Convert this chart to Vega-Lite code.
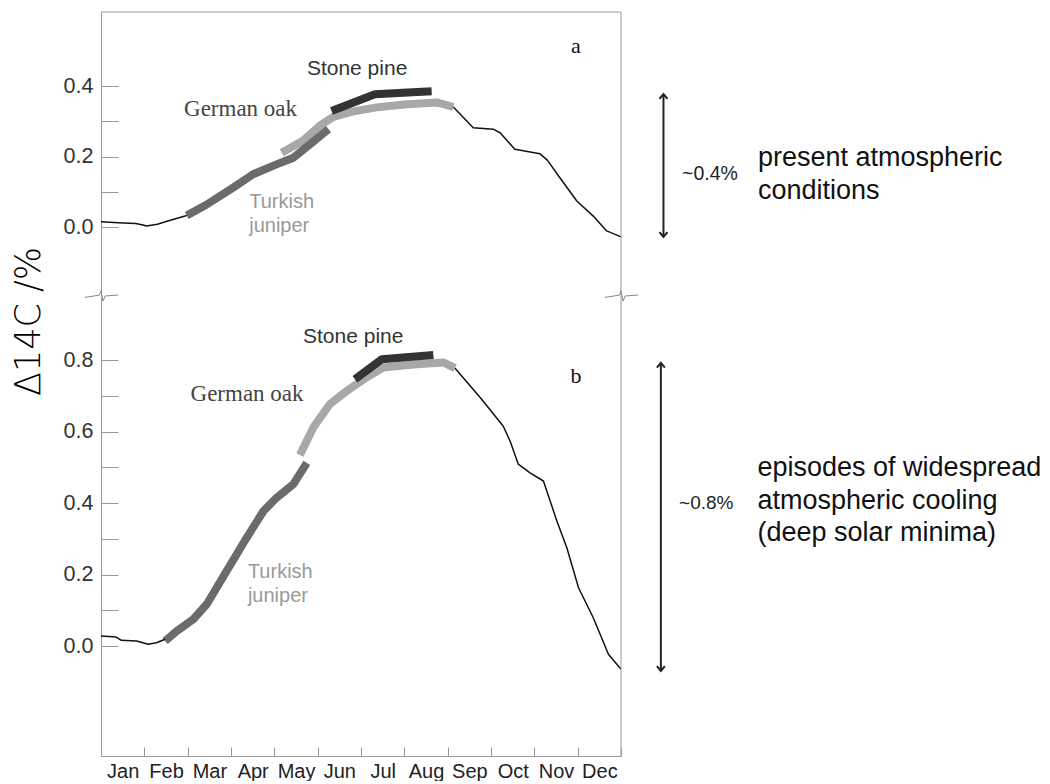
{
  "$schema": "https://vega.github.io/schema/vega-lite/v6.json",
  "padding": {"left": 10, "top": 11, "right": 0, "bottom": 0},
  "background": "white",
  "spacing": 0,
  "bounds": "flush",
  "config": {
    "view": {"stroke": null},
    "axis": {"grid": false, "domainColor": "#999", "tickColor": "#999", "labelFont": "Liberation Sans", "labelColor": "#333"},
    "text": {"font": "Liberation Sans"}
  },
  "datasets": {
    "a": [
      {"series": "oak", "month": 4.17, "value": 0.211},
      {"series": "oak", "month": 4.67, "value": 0.246},
      {"series": "oak", "month": 5.05, "value": 0.288},
      {"series": "oak", "month": 5.36, "value": 0.313},
      {"series": "oak", "month": 5.8, "value": 0.328},
      {"series": "oak", "month": 6.36, "value": 0.34},
      {"series": "oak", "month": 7.0, "value": 0.348},
      {"series": "oak", "month": 7.75, "value": 0.354},
      {"series": "oak", "month": 8.13, "value": 0.341},
      {"series": "juniper", "month": 1.98, "value": 0.033},
      {"series": "juniper", "month": 2.44, "value": 0.064},
      {"series": "juniper", "month": 3.05, "value": 0.112},
      {"series": "juniper", "month": 3.51, "value": 0.15},
      {"series": "juniper", "month": 4.05, "value": 0.178},
      {"series": "juniper", "month": 4.44, "value": 0.197},
      {"series": "juniper", "month": 4.82, "value": 0.235},
      {"series": "juniper", "month": 5.25, "value": 0.278},
      {"series": "pine", "month": 5.32, "value": 0.33},
      {"series": "pine", "month": 6.32, "value": 0.377},
      {"series": "pine", "month": 7.63, "value": 0.386},
      {"series": "c1", "month": 0.0, "value": 0.015},
      {"series": "c1", "month": 0.4, "value": 0.012},
      {"series": "c1", "month": 0.8, "value": 0.01},
      {"series": "c1", "month": 0.97, "value": 0.006},
      {"series": "c1", "month": 1.05, "value": 0.003},
      {"series": "c1", "month": 1.3, "value": 0.008},
      {"series": "c1", "month": 1.6, "value": 0.019},
      {"series": "c1", "month": 1.98, "value": 0.033},
      {"series": "c2", "month": 8.13, "value": 0.341},
      {"series": "c2", "month": 8.59, "value": 0.282},
      {"series": "c2", "month": 9.05, "value": 0.278},
      {"series": "c2", "month": 9.21, "value": 0.268},
      {"series": "c2", "month": 9.55, "value": 0.221},
      {"series": "c2", "month": 10.13, "value": 0.208},
      {"series": "c2", "month": 10.3, "value": 0.19},
      {"series": "c2", "month": 10.59, "value": 0.14},
      {"series": "c2", "month": 10.98, "value": 0.074},
      {"series": "c2", "month": 11.36, "value": 0.031},
      {"series": "c2", "month": 11.67, "value": -0.011},
      {"series": "c2", "month": 12.0, "value": -0.028}
    ],
    "b": [
      {"series": "oak", "month": 4.59, "value": 0.535},
      {"series": "oak", "month": 4.9, "value": 0.612},
      {"series": "oak", "month": 5.28, "value": 0.677},
      {"series": "oak", "month": 5.67, "value": 0.714},
      {"series": "oak", "month": 6.1, "value": 0.75},
      {"series": "oak", "month": 6.52, "value": 0.78},
      {"series": "oak", "month": 7.2, "value": 0.788},
      {"series": "oak", "month": 7.9, "value": 0.794},
      {"series": "oak", "month": 8.17, "value": 0.778},
      {"series": "juniper", "month": 1.48, "value": 0.014},
      {"series": "juniper", "month": 1.75, "value": 0.042},
      {"series": "juniper", "month": 2.13, "value": 0.075},
      {"series": "juniper", "month": 2.44, "value": 0.117},
      {"series": "juniper", "month": 2.9, "value": 0.21},
      {"series": "juniper", "month": 3.36, "value": 0.303},
      {"series": "juniper", "month": 3.75, "value": 0.378},
      {"series": "juniper", "month": 4.05, "value": 0.415},
      {"series": "juniper", "month": 4.44, "value": 0.453},
      {"series": "juniper", "month": 4.75, "value": 0.513},
      {"series": "pine", "month": 5.86, "value": 0.747},
      {"series": "pine", "month": 6.48, "value": 0.803},
      {"series": "pine", "month": 7.67, "value": 0.815},
      {"series": "c1", "month": 0.0, "value": 0.028},
      {"series": "c1", "month": 0.35, "value": 0.025},
      {"series": "c1", "month": 0.47, "value": 0.016},
      {"series": "c1", "month": 0.82, "value": 0.014},
      {"series": "c1", "month": 1.09, "value": 0.005},
      {"series": "c1", "month": 1.28, "value": 0.009},
      {"series": "c1", "month": 1.48, "value": 0.019},
      {"series": "c2", "month": 8.17, "value": 0.778},
      {"series": "c2", "month": 8.75, "value": 0.696},
      {"series": "c2", "month": 9.28, "value": 0.616},
      {"series": "c2", "month": 9.44, "value": 0.574},
      {"series": "c2", "month": 9.63, "value": 0.509},
      {"series": "c2", "month": 9.9, "value": 0.485},
      {"series": "c2", "month": 10.21, "value": 0.462},
      {"series": "c2", "month": 10.52, "value": 0.35},
      {"series": "c2", "month": 10.75, "value": 0.275},
      {"series": "c2", "month": 11.02, "value": 0.163},
      {"series": "c2", "month": 11.36, "value": 0.079},
      {"series": "c2", "month": 11.71, "value": -0.023},
      {"series": "c2", "month": 12.0, "value": -0.065}
    ]
  },
  "vconcat": [
    {
      "width": 520,
      "height": 284,
      "layer": [
        {
          "data": {"name": "a"},
          "transform": [{"filter": "datum.series == 'oak' || datum.series == 'juniper' || datum.series == 'pine'"}],
          "mark": {"type": "line", "strokeCap": "butt", "strokeJoin": "round", "strokeWidth": 8},
          "encoding": {
            "x": {"field": "month", "type": "quantitative", "scale": {"domain": [0, 12], "nice": false, "zero": false}, "axis": null},
            "y": {"field": "value", "type": "quantitative", "scale": {"domain": [-0.196, 0.611], "nice": false, "zero": false},
              "axis": {"title": null, "values": [0, 0.1, 0.2, 0.3, 0.4], "format": ".1f", "labelExpr": "round(datum.value*10) % 2 == 0 ? datum.label : ''", "tickSize": -17, "labelFontSize": 21.5, "labelPadding": 25}},
            "color": {"field": "series", "type": "nominal", "scale": {"domain": ["oak", "juniper", "pine"], "range": ["#a8a8a8", "#6b6b6b", "#333333"]}, "legend": null}
          }
        },
        {
          "data": {"name": "a"},
          "transform": [{"filter": "datum.series == 'c1' || datum.series == 'c2'"}],
          "mark": {"type": "line", "strokeWidth": 1.5, "color": "#111", "strokeJoin": "round"},
          "encoding": {
            "x": {"field": "month", "type": "quantitative"},
            "y": {"field": "value", "type": "quantitative"},
            "detail": {"field": "series", "type": "nominal"}
          }
        },
        {
          "data": {"values": [{}]},
          "mark": {"type": "rule", "color": "#999", "strokeWidth": 1},
          "encoding": {"x": {"datum": 12}}
        },
        {
          "data": {"values": [{}]},
          "mark": {"type": "rule", "color": "#999", "strokeWidth": 1},
          "encoding": {"y": {"datum": 0.611}}
        },
        {
          "data": {"values": [{}]},
          "mark": {"type": "point", "shape": "M-0.95,0.08L-0.1,-0.05L0,-0.3L0.12,0.3L0.24,0L1,-0.06", "size": 1156, "filled": false, "stroke": "#888", "strokeWidth": 1, "opacity": 1},
          "encoding": {"x": {"datum": 0}, "y": {"datum": -0.196}}
        },
        {
          "data": {"values": [{}]},
          "mark": {"type": "point", "shape": "M-0.95,0.08L-0.1,-0.05L0,-0.3L0.12,0.3L0.24,0L1,-0.06", "size": 1156, "filled": false, "stroke": "#888", "strokeWidth": 1, "opacity": 1},
          "encoding": {"x": {"datum": 12}, "y": {"datum": -0.196}}
        },
        {
          "data": {"values": [{}]},
          "mark": {"type": "rule", "color": "#222", "strokeWidth": 2},
          "encoding": {"x": {"datum": 12.98}, "y": {"datum": 0.378}, "y2": {"datum": -0.028}}
        },
        {
          "data": {"values": [{}]},
          "mark": {"type": "point", "shape": "M-1,1.2L0,0L1,1.2", "size": 64, "filled": false, "stroke": "#222", "strokeWidth": 2, "opacity": 1},
          "encoding": {"x": {"datum": 12.98}, "y": {"datum": 0.378}}
        },
        {
          "data": {"values": [{}]},
          "mark": {"type": "point", "shape": "M-1,-1.2L0,0L1,-1.2", "size": 64, "filled": false, "stroke": "#222", "strokeWidth": 2, "opacity": 1},
          "encoding": {"x": {"datum": 12.98}, "y": {"datum": -0.028}}
        },
        {
          "data": {"values": [{}]},
          "mark": {"type": "text", "text": "Stone pine", "align": "center", "baseline": "alphabetic", "fontSize": 21, "color": "#333"},
          "encoding": {"x": {"datum": 5.91}, "y": {"datum": 0.432}}
        },
        {
          "data": {"values": [{}]},
          "mark": {"type": "text", "text": "German oak", "align": "center", "baseline": "alphabetic", "fontSize": 23, "font": "Liberation Serif", "color": "#444"},
          "encoding": {"x": {"datum": 3.22}, "y": {"datum": 0.315}}
        },
        {
          "data": {"values": [{}]},
          "mark": {"type": "text", "text": ["Turkish", "juniper"], "align": "left", "baseline": "alphabetic", "fontSize": 20, "lineHeight": 24, "color": "#999"},
          "encoding": {"x": {"datum": 3.42}, "y": {"datum": 0.054}}
        },
        {
          "data": {"values": [{}]},
          "mark": {"type": "text", "text": "a", "align": "center", "baseline": "alphabetic", "fontSize": 22, "font": "Liberation Serif", "color": "#111"},
          "encoding": {"x": {"datum": 10.96}, "y": {"datum": 0.494}}
        },
        {
          "data": {"values": [{}]},
          "mark": {"type": "text", "text": "~0.4%", "align": "left", "baseline": "middle", "fontSize": 19.5, "color": "#222"},
          "encoding": {"x": {"datum": 13.41}, "y": {"datum": 0.151}}
        },
        {
          "data": {"values": [{}]},
          "mark": {"type": "text", "text": ["present atmospheric", "conditions"], "align": "left", "baseline": "alphabetic", "fontSize": 27, "lineHeight": 33, "color": "#111"},
          "encoding": {"x": {"datum": 15.16}, "y": {"datum": 0.173}}
        }
      ]
    },
    {
      "width": 520,
      "height": 460,
      "layer": [
        {
          "data": {"name": "b"},
          "transform": [{"filter": "datum.series == 'oak' || datum.series == 'juniper' || datum.series == 'pine'"}],
          "mark": {"type": "line", "strokeCap": "butt", "strokeJoin": "round", "strokeWidth": 8},
          "encoding": {
            "x": {"field": "month", "type": "quantitative", "scale": {"domain": [0, 12], "nice": false, "zero": false},
              "axis": {"title": null, "values": [0, 1, 2, 3, 4, 5, 6, 7, 8, 9, 10, 11, 12], "labelExpr": "['Jan','Feb','Mar','Apr','May','Jun','Jul','Aug','Sep','Oct','Nov','Dec',''][datum.value]", "tickSize": -9, "labelOffset": 21.7, "labelFlush": false, "labelOverlap": false, "labelBound": false, "labelFontSize": 20, "labelColor": "#222", "labelPadding": 14}},
            "y": {"field": "value", "type": "quantitative", "scale": {"domain": [-0.308, 0.98], "nice": false, "zero": false},
              "axis": {"values": [0, 0.1, 0.2, 0.3, 0.4, 0.5, 0.6, 0.7, 0.8], "format": ".1f", "labelExpr": "round(datum.value*10) % 2 == 0 ? datum.label : ''", "tickSize": -17, "labelFontSize": 21.5, "labelPadding": 25,
                "title": "Δ14C /%", "titleX": -73, "titleY": 25, "titleAngle": 270, "titleAlign": "center", "titleBaseline": "middle", "titleFont": "DejaVu Sans", "titleFontSize": 35, "titleFontWeight": 200, "titleColor": "#000"}},
            "color": {"field": "series", "type": "nominal", "scale": {"domain": ["oak", "juniper", "pine"], "range": ["#a8a8a8", "#6b6b6b", "#333333"]}, "legend": null}
          }
        },
        {
          "data": {"name": "b"},
          "transform": [{"filter": "datum.series == 'c1' || datum.series == 'c2'"}],
          "mark": {"type": "line", "strokeWidth": 1.5, "color": "#111", "strokeJoin": "round"},
          "encoding": {
            "x": {"field": "month", "type": "quantitative"},
            "y": {"field": "value", "type": "quantitative"},
            "detail": {"field": "series", "type": "nominal"}
          }
        },
        {
          "data": {"values": [{}]},
          "mark": {"type": "rule", "color": "#999", "strokeWidth": 1},
          "encoding": {"x": {"datum": 12}}
        },
        {
          "data": {"values": [{}]},
          "mark": {"type": "rule", "color": "#222", "strokeWidth": 2},
          "encoding": {"x": {"datum": 12.92}, "y": {"datum": 0.793}, "y2": {"datum": -0.07}}
        },
        {
          "data": {"values": [{}]},
          "mark": {"type": "point", "shape": "M-1,1.2L0,0L1,1.2", "size": 64, "filled": false, "stroke": "#222", "strokeWidth": 2, "opacity": 1},
          "encoding": {"x": {"datum": 12.92}, "y": {"datum": 0.793}}
        },
        {
          "data": {"values": [{}]},
          "mark": {"type": "point", "shape": "M-1,-1.2L0,0L1,-1.2", "size": 64, "filled": false, "stroke": "#222", "strokeWidth": 2, "opacity": 1},
          "encoding": {"x": {"datum": 12.92}, "y": {"datum": -0.07}}
        },
        {
          "data": {"values": [{}]},
          "mark": {"type": "text", "text": "Stone pine", "align": "center", "baseline": "alphabetic", "fontSize": 21, "color": "#333"},
          "encoding": {"x": {"datum": 5.82}, "y": {"datum": 0.849}}
        },
        {
          "data": {"values": [{}]},
          "mark": {"type": "text", "text": "German oak", "align": "center", "baseline": "alphabetic", "fontSize": 23, "font": "Liberation Serif", "color": "#444"},
          "encoding": {"x": {"datum": 3.37}, "y": {"datum": 0.686}}
        },
        {
          "data": {"values": [{}]},
          "mark": {"type": "text", "text": ["Turkish", "juniper"], "align": "left", "baseline": "alphabetic", "fontSize": 20, "lineHeight": 24, "color": "#999"},
          "encoding": {"x": {"datum": 3.39}, "y": {"datum": 0.19}}
        },
        {
          "data": {"values": [{}]},
          "mark": {"type": "text", "text": "b", "align": "center", "baseline": "alphabetic", "fontSize": 22, "font": "Liberation Serif", "color": "#111"},
          "encoding": {"x": {"datum": 10.96}, "y": {"datum": 0.737}}
        },
        {
          "data": {"values": [{}]},
          "mark": {"type": "text", "text": "~0.8%", "align": "left", "baseline": "middle", "fontSize": 19, "color": "#222"},
          "encoding": {"x": {"datum": 13.34}, "y": {"datum": 0.4}}
        },
        {
          "data": {"values": [{}]},
          "mark": {"type": "text", "text": ["episodes of widespread", "atmospheric cooling", "(deep solar minima)"], "align": "left", "baseline": "alphabetic", "fontSize": 27, "lineHeight": 32.5, "color": "#111"},
          "encoding": {"x": {"datum": 15.15}, "y": {"datum": 0.476}}
        }
      ]
    }
  ]
}
